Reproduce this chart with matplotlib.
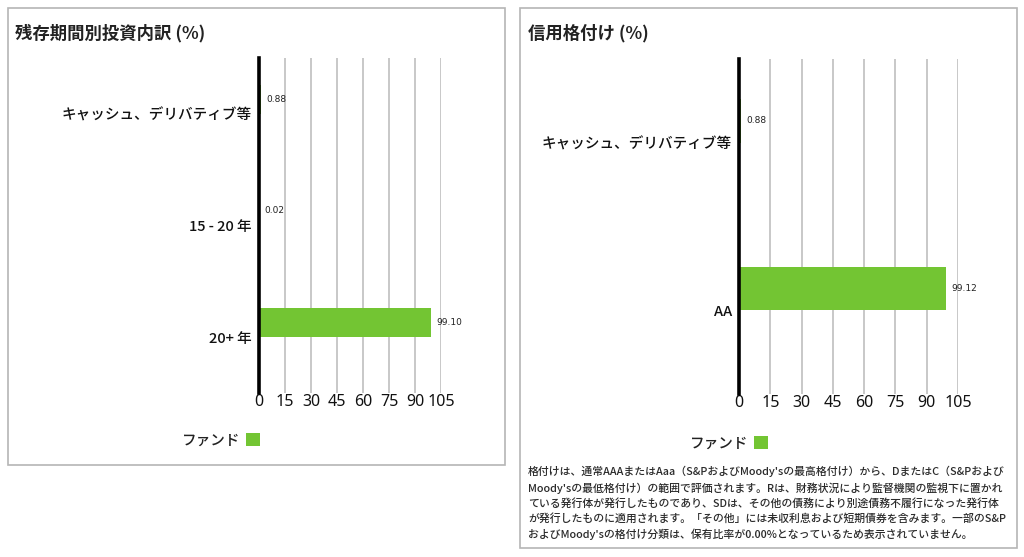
import matplotlib
matplotlib.use("Agg")
import matplotlib.pyplot as plt
from matplotlib.patches import Rectangle

plt.rcParams['font.family'] = ['Noto Sans CJK JP', 'DejaVu Sans']

# left panel: maturity breakdown
mat_title = "残存期間別投資内訳 (%)"
mat_cats = ["キャッシュ、デリバティブ等", "15 - 20 年", "20+ 年"]
mat_vals = [0.88, 0.02, 99.10]

# right panel: credit rating
cr_title = "信用格付け (%)"
cr_cats = ["キャッシュ、デリバティブ等", "AA"]
cr_vals = [0.88, 99.12]

xticks = [0, 15, 30, 45, 60, 75, 90, 105]
legend_label = "ファンド"
footnote = ("格付けは、通常AAAまたはAaa（S&PおよびMoody'sの最高格付け）から、DまたはC（S&Pおよび\n"
            "Moody'sの最低格付け）の範囲で評価されます。Rは、財務状況により監督機関の監視下に置かれ\n"
            "ている発行体が発行したものであり、SDは、その他の債務により別途債務不履行になった発行体\n"
            "が発行したものに適用されます。「その他」には未収利息および短期債券を含みます。一部のS&P\n"
            "およびMoody'sの格付け分類は、保有比率が0.00%となっているため表示されていません。")

GREEN = "#73c533"
W, H = 1024, 557

fig = plt.figure(figsize=(W / 100, H / 100), dpi=100)


def px_rect(x0, y0, x1, y1):
    # pixel box (top-left origin) -> figure fraction [l, b, w, h]
    return [x0 / W, 1 - y1 / H, (x1 - x0) / W, (y1 - y0) / H]


def panel_box(x0, y0, x1, y1):
    l, b, w, h = px_rect(x0, y0, x1, y1)
    fig.patches.append(Rectangle((l, b), w, h, transform=fig.transFigure,
                                 fill=False, edgecolor="#b5b5b5", lw=1.2))


def draw_bars(box, cats, vals, leg_xy):
    ax = fig.add_axes(px_rect(*box))
    n = len(cats)
    pos = list(range(n))
    bars = ax.barh([p - 0.13 for p in pos], vals, height=0.26, color=GREEN,
                   label=legend_label, zorder=3)
    for b, v in zip(bars, vals):
        ax.annotate(f"{v:.2f}", (b.get_width(), b.get_y() + b.get_height() / 2),
                    xytext=(4, 0), textcoords="offset points",
                    va="center", ha="left", fontsize=6.5, color="#222222",
                    family=["DejaVu Sans"])
    ax.set_ylim(n - 0.5, -0.5)
    ax.set_xlim(0, 105)
    ax.set_yticks(pos)
    ax.set_yticklabels(cats, fontsize=10.5, color="#111111", fontweight="medium")
    ax.set_xticks(xticks)
    ax.set_xticklabels([str(t) for t in xticks], fontsize=11.5, color="#111111",
                       family=["Noto Sans", "DejaVu Sans"])
    ax.tick_params(length=0)
    ax.tick_params(axis="y", pad=5)
    ax.tick_params(axis="x", pad=1)
    for s in ["top", "right", "bottom"]:
        ax.spines[s].set_visible(False)
    ax.spines["left"].set_linewidth(2.6)
    ax.spines["left"].set_color("black")
    ax.spines["left"].set_zorder(5)
    ax.grid(axis="x", color="#c4c4c4", lw=1.3, zorder=0)
    ax.set_axisbelow(True)
    fig.legend(handles=[bars], labels=[legend_label], loc="center",
               bbox_to_anchor=(leg_xy[0] / W, 1 - leg_xy[1] / H),
               frameon=False, markerfirst=False, handlelength=1.0,
               handleheight=1.0, handletextpad=0.4,
               prop={"size": 10.5, "weight": "medium"},
               labelcolor="#222222")
    return ax


# left panel
panel_box(8, 8, 505, 465)
fig.text(15 / W, 1 - 33 / H, mat_title, fontsize=12.5, fontweight="bold",
         va="center", ha="left", color="#222222")
draw_bars((259, 58, 441, 393), mat_cats, mat_vals, (221, 440))

# right panel
panel_box(520, 8, 1017, 548)
fig.text(528 / W, 1 - 33 / H, cr_title, fontsize=12.5, fontweight="bold",
         va="center", ha="left", color="#222222")
draw_bars((739, 59, 958, 394), cr_cats, cr_vals, (729, 443))

fig.text(528 / W, 1 - 466 / H, footnote, fontsize=7.8, va="top", ha="left",
         color="#2b2b2b", fontweight="medium", linespacing=1.5)

fig.savefig("out.png", dpi=100)
